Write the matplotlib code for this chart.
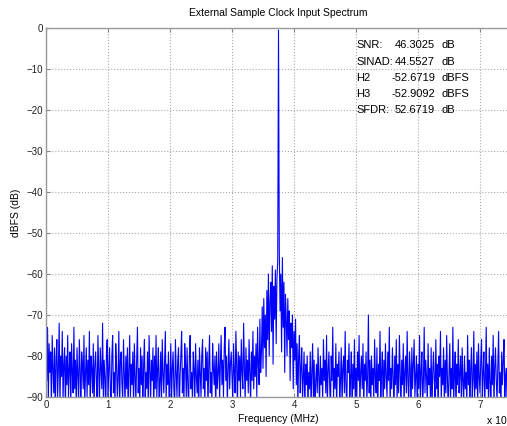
import numpy as np
import matplotlib.pyplot as plt

plt.rc("font", family=["Liberation Sans", "DejaVu Sans"], size=7)

# spectrum magnitude (dBFS, sign dropped), one value per 0.0125 MHz bin
spec_rows = [
    [70, 86, 73, 91, 77, 84, 79, 93, 75, 83, 89, 78, 95, 81, 76, 90, 83, 72, 92, 80],
    [85, 74, 91, 82, 78, 94, 80, 87, 75, 90, 83, 79, 93, 77, 84, 89, 73, 88, 81, 92],
    [78, 85, 91, 76, 83, 95, 79, 82, 88, 75, 92, 84, 78, 90, 81, 87, 74, 93, 80, 83],
    [89, 77, 94, 82, 79, 86, 91, 75, 84, 92, 78, 83, 88, 72, 90, 81, 85, 95, 79, 76],
    [91, 83, 78, 88, 93, 80, 75, 89, 84, 92, 77, 82, 90, 85, 74, 94, 81, 79, 87, 91],
    [76, 84, 92, 80, 88, 78, 94, 83, 75, 90, 82, 87, 79, 93, 77, 85, 91, 81, 73, 89],
    [83, 92, 78, 87, 80, 95, 82, 76, 90, 84, 88, 79, 93, 75, 83, 91, 81, 86, 78, 94],
    [80, 88, 75, 90, 83, 78, 92, 86, 79, 93, 76, 84, 89, 81, 74, 91, 82, 87, 79, 94],
    [85, 77, 91, 83, 79, 88, 93, 76, 84, 90, 81, 78, 94, 85, 80, 74, 89, 83, 92, 77],
    [82, 90, 78, 87, 93, 80, 75, 88, 84, 91, 79, 83, 92, 77, 85, 89, 81, 95, 78, 84],
    [90, 80, 76, 88, 83, 92, 78, 86, 79, 93, 82, 75, 89, 84, 91, 77, 83, 87, 80, 94],
    [79, 88, 84, 77, 91, 82, 75, 87, 81, 90, 78, 73, 86, 80, 92, 83, 76, 88, 82, 79],
    [85, 91, 77, 84, 89, 74, 82, 93, 79, 86, 80, 90, 76, 84, 88, 72, 83, 91, 78, 86],
    [81, 89, 76, 84, 92, 79, 86, 74, 88, 80, 85, 77, 90, 73, 82, 87, 71, 84, 79, 68],
    [83, 66, 78, 70, 85, 64, 76, 60, 80, 67, 62, 74, 58, 82, 63, 71, 59, 77, 61, 57],
    [0.5, 54, 69, 60, 79, 56, 73, 62, 84, 65, 71, 80, 66, 76, 69, 86, 72, 78, 70, 88],
    [74, 81, 71, 87, 77, 92, 80, 75, 89, 83, 78, 91, 85, 79, 94, 82, 87, 80, 93, 84],
    [88, 79, 93, 84, 77, 90, 81, 95, 86, 82, 89, 78, 85, 92, 80, 87, 83, 91, 76, 86],
    [81, 89, 75, 92, 84, 79, 87, 94, 80, 86, 73, 90, 83, 88, 77, 93, 82, 85, 79, 91],
    [86, 78, 92, 83, 80, 89, 74, 87, 93, 81, 84, 77, 90, 85, 79, 94, 82, 88, 76, 91],
    [83, 90, 79, 86, 75, 92, 84, 80, 88, 77, 93, 82, 86, 79, 91, 85, 70, 89, 81, 94],
    [80, 87, 83, 91, 76, 85, 89, 78, 94, 82, 86, 74, 90, 84, 79, 93, 81, 88, 77, 85],
    [90, 79, 86, 73, 92, 83, 88, 78, 85, 94, 80, 87, 76, 91, 82, 89, 75, 84, 93, 81],
    [87, 77, 92, 84, 80, 89, 74, 86, 91, 79, 83, 95, 78, 88, 82, 76, 90, 85, 80, 93],
    [82, 88, 75, 91, 84, 79, 93, 86, 73, 89, 81, 85, 92, 77, 87, 83, 90, 78, 94, 84],
    [79, 86, 90, 76, 88, 82, 94, 80, 85, 74, 91, 83, 87, 78, 92, 81, 89, 75, 86, 93],
    [84, 77, 91, 83, 88, 73, 90, 85, 79, 94, 82, 87, 76, 89, 84, 80, 93, 78, 86, 91],
    [80, 88, 84, 92, 75, 87, 81, 95, 83, 78, 90, 86, 74, 91, 82, 88, 79, 93, 77, 85],
    [89, 81, 76, 90, 84, 79, 93, 85, 73, 88, 82, 91, 78, 86, 94, 80, 87, 75, 92, 83],
    [78, 86, 91, 82, 74, 89, 84, 93, 79, 87, 81, 76, 90, 85, 83, 92, 77, 88, 80, 84],
]
bin_width = 0.0125  # MHz

stat_names = ["SNR:", "SINAD:", "H2", "H3", "SFDR:"]
stat_values = ["46.3025", "44.5527", "-52.6719", "-52.9092", "52.6719"]
stat_units = ["dB", "dB", "dBFS", "dBFS", "dB"]

mag = -np.array([v for row in spec_rows for v in row], dtype=float)
freq = np.arange(len(mag)) * bin_width

W, H = 507, 426
fig = plt.figure(figsize=(W / 100, H / 100), dpi=100)
ax = fig.add_axes([46 / W, 1 - 397 / H, (511 - 46) / W, (397 - 28) / H])

ax.plot(freq, mag, color="#0000ff", lw=0.8)
ax.set_xlim(0, 7.5)
ax.set_ylim(-90, 0)
ax.set_xticks(range(0, 8))
ax.set_yticks(range(-90, 1, 10))
ax.grid(True, linestyle=":", color="#aaaaaa", lw=0.8)
ax.tick_params(axis="both", direction="in", length=3, right=True, top=True,
               color="#888888", labelcolor="#222222", pad=2)
for s in ax.spines.values():
    s.set_color("#999999")
    s.set_linewidth(1)

ax.set_title("External Sample Clock Input Spectrum", fontsize=7.5, pad=9)
ax.set_xlabel("Frequency (MHz)", fontsize=7.5, labelpad=3)
ax.set_ylabel("dBFS (dB)", fontsize=7.5, labelpad=4)

line_y = [45, 62, 78, 94, 110]
for name, val, unit, y in zip(stat_names, stat_values, stat_units, line_y):
    fig.text(356 / W, 1 - y / H, name, fontsize=8, va="center")
    fig.text(435 / W, 1 - y / H, val, fontsize=8, va="center", ha="right")
    fig.text(441 / W, 1 - y / H, unit, fontsize=8, va="center")

fig.text(487 / W, 1 - 421 / H, "x 10", fontsize=7.5, va="center")

fig.savefig("out.png", dpi=100)
